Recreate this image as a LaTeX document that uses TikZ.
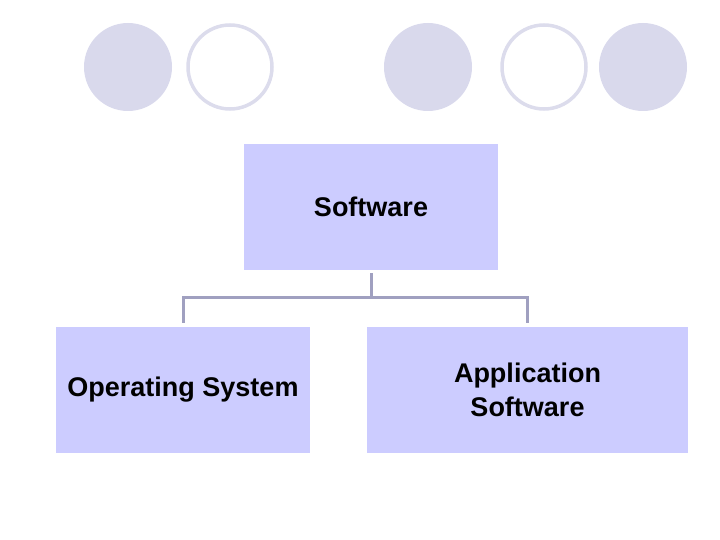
\documentclass[tikz,border=0pt]{standalone}
\usepackage{fontspec}
\setmainfont{Liberation Sans}
\usetikzlibrary{calc}

\definecolor{boxfill}{RGB}{204,204,255}
\definecolor{dotfill}{RGB}{217,217,236}
\definecolor{ringcol}{RGB}{220,220,236}
\definecolor{linkcol}{RGB}{160,160,192}

\tikzset{
  box/.style={fill=boxfill, minimum height=126pt, inner sep=0pt,
    font=\fontsize{27}{34}\selectfont\bfseries, align=center},
  link/.style={linkcol, line width=3pt},
}

\begin{document}
\begin{tikzpicture}[x=1pt, y=-1pt]

% Page frame
\useasboundingbox (0,0) rectangle (720,540);

% Decorative dots along the top
\def\dotr{44}
\foreach \cx in {128,428,643}
  \fill[dotfill] (\cx,67) circle (\dotr);
\foreach \cx in {230,544}
  \draw[ringcol, line width=3.5pt] (\cx,67) circle (\dotr-2);

% Tree boxes
\node[box, minimum width=254pt] (sw) at (371,207) {Software};
\node[box, minimum width=254pt] (os) at (183,390) {Operating System};
\node[box, minimum width=321pt] (app) at (527.5,390) {Application\\Software};

% Branch lines
\coordinate (fork) at ($(sw.south)+(0,27)$);
\draw[link] ([yshift=-3]sw.south) -- (fork);
\draw[link] ([yshift=4]os.north) |- (fork -| app.north) -- ([yshift=4]app.north);

\end{tikzpicture}
\end{document}
